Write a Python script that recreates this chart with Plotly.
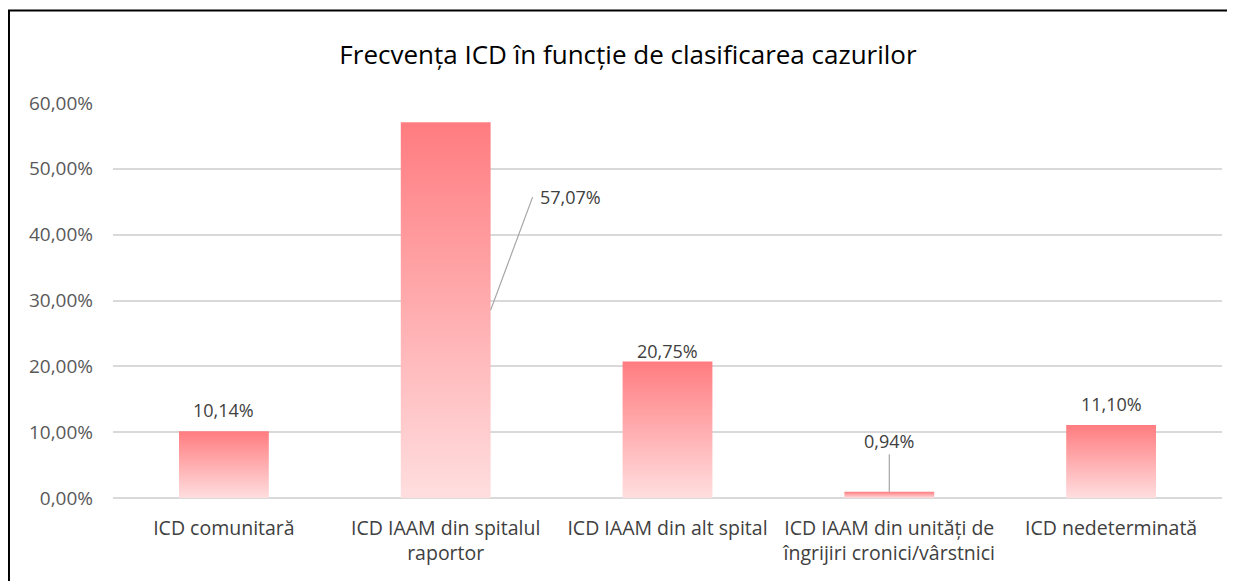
import plotly.graph_objects as go

# date
categorii = [
    "ICD comunitară",
    "ICD IAAM din spitalul<br>raportor",
    "ICD IAAM din alt spital",
    "ICD IAAM din unități de<br>îngrijiri cronici/vârstnici",
    "ICD nedeterminată",
]
procente = [10.14, 57.07, 20.75, 0.94, 11.10]
y_ticks = [0, 10, 20, 30, 40, 50, 60]

FONT = "Open Sans"
TOP = "rgb(255,124,128)"
BOTTOM = "rgb(255,222,223)"
LATIME = 0.405


def fmt(v):
    return f"{v:.2f}".replace(".", ",") + "%"


fig = go.Figure()

# bare desenate ca poligoane cu gradient vertical
for i, v in enumerate(procente):
    x0, x1 = i - LATIME / 2, i + LATIME / 2
    fig.add_trace(
        go.Scatter(
            x=[x0, x1, x1, x0, x0],
            y=[0, 0, v, v, 0],
            mode="lines",
            line=dict(width=0),
            fill="toself",
            fillgradient=dict(type="vertical", colorscale=[[0, BOTTOM], [1, TOP]]),
            hoverinfo="skip",
            showlegend=False,
        )
    )

# etichete
lbl_font = dict(family=FONT, size=18, color="#404040")
for i, v in enumerate(procente):
    if i == 1:
        fig.add_annotation(
            x=i + LATIME / 2, y=v / 2, text=fmt(v),
            showarrow=True, arrowhead=0, arrowwidth=1.2, arrowcolor="#A6A6A6",
            ax=42, ay=-113, xanchor="left", yanchor="middle",
            borderpad=6, font=lbl_font,
        )
    elif i == 3:
        fig.add_annotation(
            x=i, y=v, text=fmt(v),
            showarrow=True, arrowhead=0, arrowwidth=1.2, arrowcolor="#A6A6A6",
            ax=0, ay=-51, font=lbl_font,
        )
    else:
        fig.add_annotation(
            x=i, y=v, text=fmt(v), showarrow=False, yanchor="bottom",
            yshift=7 if i != 2 else -4,
            font=lbl_font,
        )

# chenar
fig.add_shape(
    type="rect", xref="paper", yref="paper",
    x0=-0.0938, x1=1.05, y0=-0.4, y1=1.234,
    line=dict(color="black", width=2),
)

fig.update_layout(
    width=1227,
    height=573,
    paper_bgcolor="white",
    plot_bgcolor="white",
    separators=",.",
    margin=dict(l=105, r=13, t=95, b=83),
    title=dict(
        text="Frecvența ICD în funcție de clasificarea cazurilor",
        x=0.5053, xanchor="center", y=0.918, yanchor="middle",
        font=dict(family=FONT, size=26, color="#000000"),
    ),
    font=dict(family=FONT, size=18, color="#595959"),
    xaxis=dict(
        range=[-0.5, 4.5],
        tickmode="array",
        tickvals=list(range(len(categorii))),
        ticktext=categorii,
        showgrid=False,
        zeroline=False,
        showline=False,
        ticks="",
        ticklabelstandoff=16,
        tickfont=dict(family=FONT, size=19.5, color="#404040"),
    ),
    yaxis=dict(
        range=[0, 60],
        tickmode="array",
        tickvals=y_ticks,
        ticktext=[fmt(t) for t in y_ticks],
        showgrid=True,
        gridcolor="#D9D9D9",
        gridwidth=1.5,
        zeroline=True,
        zerolinecolor="#D9D9D9",
        zerolinewidth=1.5,
        ticklabelstandoff=19,
        tickfont=dict(family=FONT, size=19, color="#595959"),
    ),
    hovermode=False,
)

fig.write_html("out.html")
